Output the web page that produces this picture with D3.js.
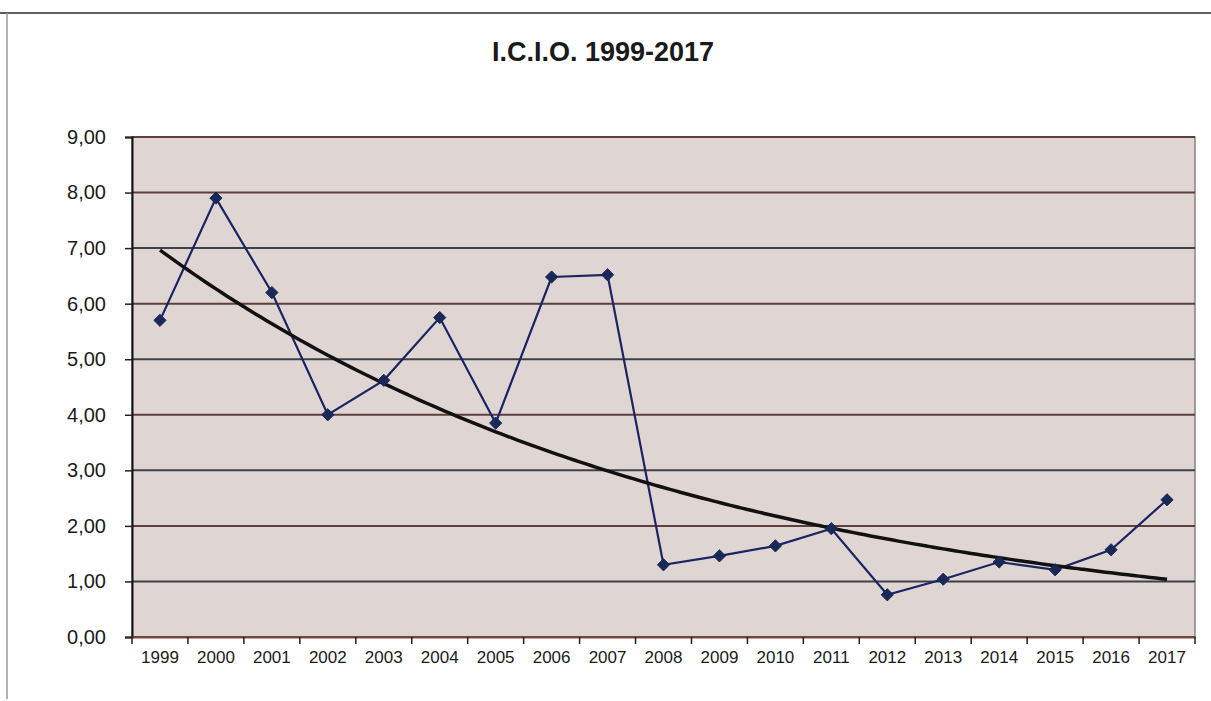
<!DOCTYPE html>
<html>
<head>
<meta charset="utf-8">
<script src="https://cdn.jsdelivr.net/npm/d3@7/dist/d3.min.js"></script>
<style>
  html, body { margin: 0; padding: 0; background: #ffffff; }
  svg { display: block; }
  text { font-family: "Liberation Sans", Arial, sans-serif; fill: #1a1a1a; }
</style>
</head>
<body>
<svg id="chart" width="1211" height="701"></svg>
<script>
// ---- data ----
const title = "I.C.I.O. 1999-2017";
const years = ["1999","2000","2001","2002","2003","2004","2005","2006","2007","2008",
               "2009","2010","2011","2012","2013","2014","2015","2016","2017"];
const icio = [5.70, 7.90, 6.20, 4.00, 4.62, 5.75, 3.85, 6.48, 6.52, 1.30,
              1.46, 1.64, 1.95, 0.76, 1.04, 1.35, 1.21, 1.57, 2.47];
const yTicks = [0,1,2,3,4,5,6,7,8,9];

// ---- layout ----
const svg = d3.select("#chart");
const W = 1211, H = 701;
const m = { left: 132, right: 1195, top: 137, bottom: 637 };

// chart frame (scanned page border)
svg.append("line").attr("x1", 0).attr("x2", W).attr("y1", 13).attr("y2", 13)
  .attr("stroke", "#5e5e5e").attr("stroke-width", 2);
svg.append("line").attr("x1", 7).attr("x2", 7).attr("y1", 13).attr("y2", 699)
  .attr("stroke", "#9a9a9a").attr("stroke-width", 1.5);

svg.append("text").attr("x", 603).attr("y", 61).attr("text-anchor", "middle")
  .style("font-size", "27px").style("font-weight", "bold").attr("fill", "#111")
  .text(title);

const x = d3.scaleBand().domain(years).range([m.left, m.right]).padding(0);
const y = d3.scaleLinear().domain([0, 9]).range([m.bottom, m.top]);

// plot background
svg.append("rect").attr("x", m.left).attr("y", m.top)
  .attr("width", m.right - m.left).attr("height", m.bottom - m.top)
  .attr("fill", "#dfd6d4").attr("stroke", "#6f6a6a").attr("stroke-width", 1.2);

// gridlines
svg.append("g").selectAll("line").data(yTicks).join("line")
  .attr("x1", m.left).attr("x2", m.right)
  .attr("y1", d => y(d)).attr("y2", d => y(d))
  .attr("stroke", d => (d % 2 === 0 || d === 9) ? "#5e3f3b" : "#3e4048")
  .attr("stroke-width", 2);

// y axis
const yAxis = d3.axisLeft(y).tickValues(yTicks).tickSize(7).tickPadding(19)
  .tickFormat(d => d3.format(".2f")(d).replace(".", ","));
const gy = svg.append("g").attr("transform", `translate(${m.left},0)`).call(yAxis);
gy.select(".domain").attr("stroke", "#111").attr("stroke-width", 2);
gy.selectAll(".tick line").attr("stroke", "#222").attr("stroke-width", 1.5);
gy.selectAll(".tick text").style("font-size", "20px").attr("fill", "#111")
  .attr("font-family", "Liberation Sans, Arial, sans-serif");

// x axis
const xAxis = d3.axisBottom(x).tickSize(0).tickPadding(14);
const gx = svg.append("g").attr("transform", `translate(0,${m.bottom})`).call(xAxis);
gx.select(".domain").attr("stroke", "#7a4a3e").attr("stroke-width", 2);
gx.selectAll(".tick text").style("font-size", "17px").attr("fill", "#111")
  .attr("font-family", "Liberation Sans, Arial, sans-serif");
// category boundary ticks
const bounds = years.map(d => x(d)).concat([x(years[years.length - 1]) + x.bandwidth()]);
svg.append("g").selectAll("line").data(bounds).join("line")
  .attr("x1", d => d).attr("x2", d => d)
  .attr("y1", m.bottom).attr("y2", m.bottom + 7)
  .attr("stroke", "#222").attr("stroke-width", 1.5);

const cx = d => x(d) + x.bandwidth() / 2;

// exponential trendline (least-squares fit of ln(y) on index, as in spreadsheet trendlines)
const n = icio.length;
const lx = d3.range(n), ly = icio.map(v => Math.log(v));
const mx = d3.mean(lx), my = d3.mean(ly);
const b = d3.sum(lx.map((v, i) => (v - mx) * (ly[i] - my))) / d3.sum(lx.map(v => (v - mx) ** 2));
const a = Math.exp(my - b * mx);
const trend = d3.range(0, n - 1 + 1e-9, 0.1).map(t => [t, a * Math.exp(b * t)]);
const tx = d3.scaleLinear().domain([0, n - 1]).range([cx(years[0]), cx(years[n - 1])]);

// data line
svg.append("path").datum(icio)
  .attr("d", d3.line().x((d, i) => cx(years[i])).y(d => y(d)))
  .attr("fill", "none").attr("stroke", "#1b2462").attr("stroke-width", 2.2);

svg.append("path").datum(trend)
  .attr("d", d3.line().x(d => tx(d[0])).y(d => y(d[1])).curve(d3.curveMonotoneX))
  .attr("fill", "none").attr("stroke", "#111111").attr("stroke-width", 3.5);

// markers
svg.append("g").selectAll("path").data(icio).join("path")
  .attr("transform", (d, i) => `translate(${cx(years[i])},${y(d)})`)
  .attr("d", d3.symbol(d3.symbolDiamond2, 95)())
  .attr("fill", "#1a2858").attr("stroke", "#1a2858").attr("stroke-width", 1);
</script>
</body>
</html>
